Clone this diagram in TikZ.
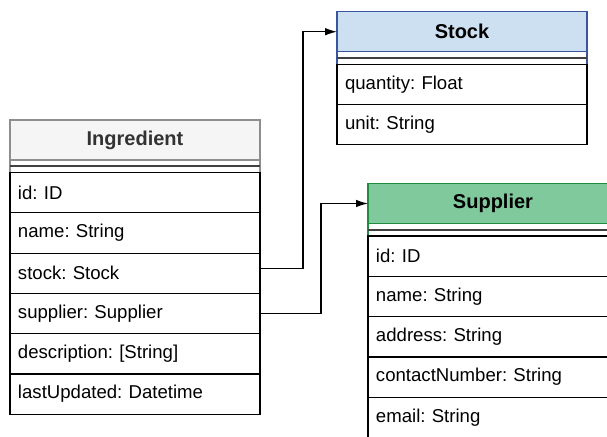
\documentclass[tikz,border=0pt]{standalone}
\usepackage{fontspec}
\setmainfont{Liberation Sans}
\usepackage{xcolor}
\usetikzlibrary{arrows.meta,positioning}
\frenchspacing

\definecolor{ingfill}{HTML}{F5F5F5}
\definecolor{ingline}{HTML}{8E8E8E}
\definecolor{stkfill}{HTML}{CCE0F1}
\definecolor{stkline}{HTML}{3A559B}
\definecolor{supfill}{HTML}{80C99C}
\definecolor{supline}{HTML}{1F8B3F}
\definecolor{sepline}{HTML}{404040}

\tikzset{
  classhead/.style={draw, line width=0.6pt, minimum width=125pt, minimum height=20pt,
    inner sep=0pt, outer sep=0pt, anchor=north west, font=\bfseries},
  classsep/.style={draw, line width=0.6pt, minimum width=125pt, minimum height=6.25pt,
    inner sep=0pt, outer sep=0pt, anchor=north west},
  attrow/.style={draw=black, line width=0.6pt, minimum height=20.15pt, text width=117pt,
    inner xsep=4pt, inner ysep=0pt, outer sep=0pt, align=left, anchor=north west},
}

\begin{document}
\begin{tikzpicture}[x=0.5pt, y=-0.5pt, font=\fontsize{9.3}{11}\selectfont,
    >={Latex[length=6pt,width=3.8pt]}]
  \useasboundingbox (0,0) rectangle (607,436);

  % Ingredient
  \node[classhead, fill=ingfill, draw=ingline, text=black!80] (ing-head) at (10,120) {Ingredient};
  \node[classsep, draw=ingline] (ing-sep) at (ing-head.south west) {};
  \draw[sepline, line width=1pt] (ing-sep.west) -- (ing-sep.east);
  \foreach \name/\prev/\txt in {id/sep/{id: ID}, name/id/{name: String},
      stock/name/{stock: Stock}, supplier/stock/{supplier: Supplier},
      description/supplier/{description: [String]},
      lastUpdated/description/{lastUpdated: Datetime}}
    \node[attrow] (ing-\name) at (ing-\prev.south west) {\txt};

  % Stock
  \node[classhead, fill=stkfill, draw=stkline] (stk-head) at (337,11.7) {Stock};
  \node[classsep, draw=stkline] (stk-sep) at (stk-head.south west) {};
  \draw[sepline, line width=1pt] (stk-sep.west) -- (stk-sep.east);
  \foreach \name/\prev/\txt in {quantity/sep/{quantity: Float}, unit/quantity/{unit: String}}
    \node[attrow] (stk-\name) at (stk-\prev.south west) {\txt};

  % Supplier
  \node[classhead, fill=supfill, draw=supline] (sup-head) at (368,183.5) {Supplier};
  \node[classsep, draw=supline] (sup-sep) at (sup-head.south west) {};
  \draw[sepline, line width=1pt] (sup-sep.west) -- (sup-sep.east);
  \foreach \name/\prev/\txt in {id/sep/{id: ID}, name/id/{name: String},
      address/name/{address: String}, contactNumber/address/{contactNumber: String},
      email/contactNumber/{email: String}}
    \node[attrow] (sup-\name) at (sup-\prev.south west) {\txt};

  % links
  \draw[->, line width=0.6pt] ([yshift=2.5pt]ing-stock.east) -- ++(43,0) |- (stk-head.west);
  \draw[->, line width=0.6pt] (ing-supplier.east) -- ++(61,0) |- (sup-head.west);
\end{tikzpicture}
\end{document}
